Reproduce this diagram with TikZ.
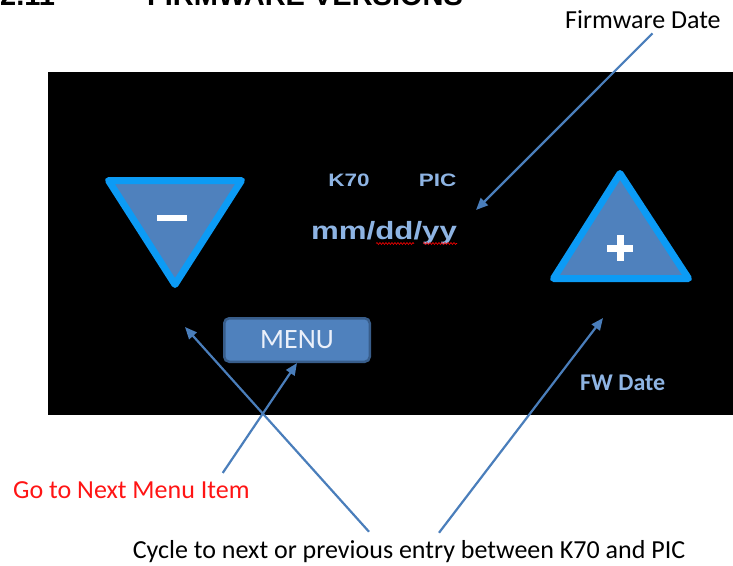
\documentclass[tikz,border=0pt]{standalone}
\usepackage{fontspec}
\setmainfont{Carlito}
\newfontfamily\lcdfont[FakeStretch=1.25]{Liberation Sans}
\newfontfamily\headfont{Liberation Sans}
\usetikzlibrary{arrows.meta,positioning,decorations.pathmorphing}
\definecolor{btnblue}{RGB}{79,129,189}
\definecolor{btnedge}{RGB}{12,155,245}
\definecolor{menuedge}{RGB}{56,93,138}
\definecolor{lcdtext}{RGB}{142,180,227}
\definecolor{arrowblue}{RGB}{74,126,187}
\definecolor{noter}{RGB}{255,20,20}
\tikzset{
	heading/.style={font=\headfont\bfseries\fontsize{29}{29}\selectfont, inner sep=0pt},
	lcdlabel/.style={text=lcdtext, font=\lcdfont\bfseries\fontsize{18}{18}\selectfont, inner sep=0pt},
	note/.style={font=\fontsize{26}{26}\selectfont, inner sep=0pt},
	button/.style={fill=btnblue, draw=btnedge, line width=7pt, line join=round},
	menubtn/.style={fill=btnblue, draw=menuedge, line width=2.5pt, rounded corners=5pt,
			minimum width=145.5pt, minimum height=43.5pt, inner sep=0pt,
			text={rgb,255:red,235;green,240;blue,250}, font=\fontsize{28}{28}\selectfont},
	pointer/.style={draw=arrowblue, line width=2.2pt, -{Triangle[length=12pt,width=10pt]}},
	spellmark/.style={draw=red, line width=0.6pt, decorate,
			decoration={snake, amplitude=1pt, segment length=3pt}}
}

\begin{document}
\begin{tikzpicture}[x=1pt, y=-1pt]
	\clip (0,0) rectangle (733,565);
	% heading, cut off at the top
	\node [heading, anchor=base west] (secno) at (0,5) {2.11};
	\node [heading, anchor=base west] (sectitle) at (147,5) {FIRMWARE VERSIONS};
	% display
	\fill [black] (48,72) rectangle (740,415);
	\draw [button] (108.5,180.5) -- (241.5,180.5) -- (175,284.5) -- cycle;
	\draw [button] (620,173.5) -- (553.5,278.5) -- (688.5,278.5) -- cycle;
	\node [fill=white, minimum width=30pt, minimum height=6pt, inner sep=0pt] (minus) at (172,218) {};
	\draw [white, line width=7pt] (607,248) -- (633,248) (620,235) -- (620,261);
	\node [lcdlabel, anchor=base] (k70) at (349,186) {K70};
	\node [lcdlabel, anchor=base] (pic) at (437.5,186) {PIC};
	\node [lcdlabel, font=\lcdfont\bfseries\fontsize{25}{25}\selectfont, anchor=base] (date) at (384,239) {mm/dd/yy};
	\draw [spellmark] (376,243.5) -- (414,243.5);
	\draw [spellmark] (423,243.5) -- (457,243.5);
	\node [menubtn] (menu) at (297,340) {MENU};
	\node [lcdlabel, font=\bfseries\fontsize{24}{24}\selectfont, anchor=base west] (fwdate) at (580,390) {FW Date};
	% notes
	\node [note, anchor=base west] (fwnote) at (565,28) {Firmware Date};
	\node [note, text=noter, anchor=base west] (menunote) at (13,498) {Go to Next Menu Item};
	\node [note, anchor=base] (cyclenote) at (409,558) {Cycle to next or previous entry between K70 and PIC};
	\coordinate (datetip) at (476,210);
	\coordinate (downtip) at (185,327);
	\coordinate (uptip) at (603,318);
	\draw [pointer] ([xshift=9.6pt,yshift=-5pt]fwnote.south) -- (datetip);
	\draw [pointer] ([xshift=-27pt,yshift=8pt]menunote.north east) -- (menu.south);
	\draw [pointer] ([xshift=-40pt,yshift=8pt]cyclenote.north) -- (downtip);
	\draw [pointer] ([xshift=30pt,yshift=7pt]cyclenote.north) -- (uptip);
\end{tikzpicture}
\end{document}
